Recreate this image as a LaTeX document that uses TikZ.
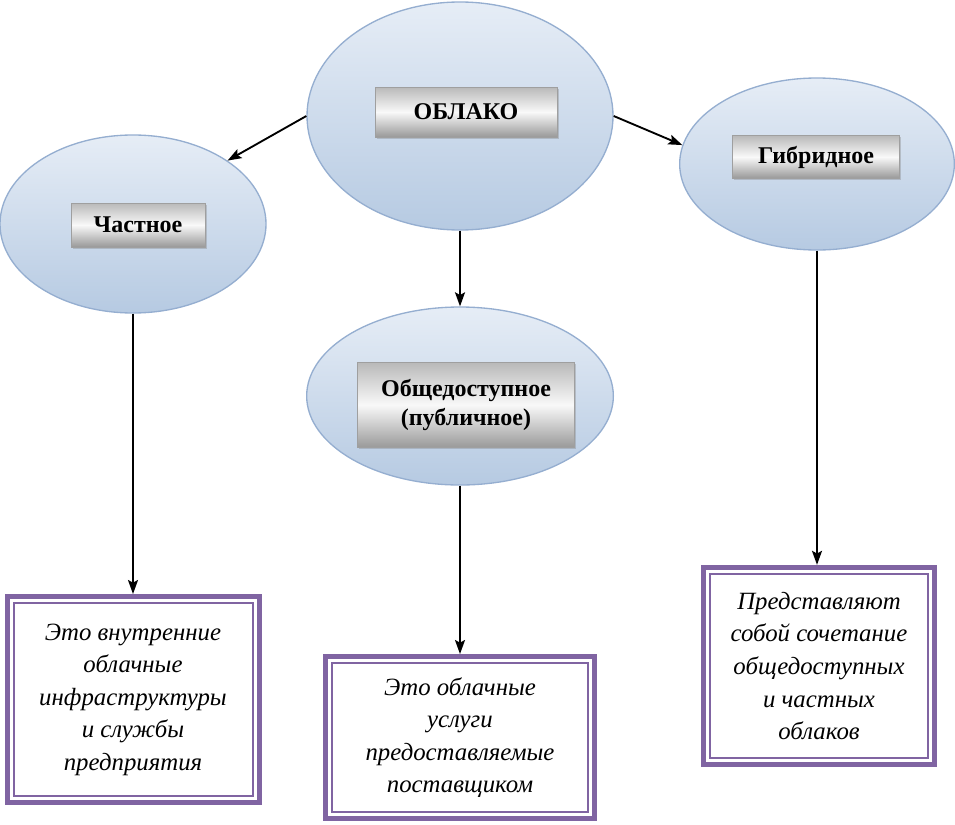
\documentclass[tikz,border=0pt]{standalone}
\usepackage{fontspec}
\setmainfont{Liberation Serif}
\usetikzlibrary{shapes.geometric, shadows, arrows.meta}
\definecolor{cloudtop}{HTML}{E6EDF6}
\definecolor{cloudbot}{HTML}{B6CAE2}
\definecolor{cloudrim}{HTML}{95AED0}
\definecolor{framepurple}{HTML}{8064A2}

\begin{document}
\begin{tikzpicture}[x=0.75pt, y=-0.75pt,
	cloud/.style={ellipse, draw=cloudrim, line width=1pt, top color=cloudtop, bottom color=cloudbot, inner sep=0pt},
	tag/.style={draw=gray!75, line width=0.6pt, top color=gray!55, bottom color=gray!80, middle color=gray!5,
		drop shadow={shadow xshift=1.2pt, shadow yshift=-1.2pt, opacity=0.35},
		font=\fontsize{18}{22}\selectfont\bfseries, align=center, inner sep=0pt},
	note/.style={draw=framepurple, line width=3.75pt, fill=white, font=\fontsize{18.6}{24.4}\selectfont\itshape, align=center, inner sep=0pt},
	link/.style={line width=1.4pt, -{Stealth[length=10.5pt, width=7.5pt, inset=2pt]}}]
	\useasboundingbox (0,0) rectangle (955,824);

	\node [cloud, minimum width=229.5pt, minimum height=171pt] (cloud) at (460,116) {};
	\node [cloud, minimum width=199.5pt, minimum height=133.5pt] (priv) at (133,224) {};
	\node [cloud, minimum width=206pt, minimum height=129pt] (hyb) at (817,164) {};
	\node [cloud, minimum width=230pt, minimum height=133.5pt] (pub) at (460,396) {};

	\node [tag, minimum width=136.5pt, minimum height=37.5pt] (cloudtag) at (466,112) {ОБЛАКО};
	\node [tag, minimum width=100.5pt, minimum height=33pt] (privtag) at (138,225) {Частное};
	\node [tag, minimum width=125pt, minimum height=32pt] (hybtag) at (816,157) {Гибридное};
	\node [tag, minimum width=163pt, minimum height=64pt] (pubtag) at (466,405) {Общедоступное\\(публичное)};

	\node [note, minimum width=189pt, minimum height=154.5pt] (privtxt) at (133,699.5)
		{Это внутренние\\облачные\\инфраструктуры\\и службы\\предприятия};
	\node [note, minimum width=202pt, minimum height=121.5pt] (pubtxt) at (460,737.5)
		{Это облачные\\услуги\\предоставляемые\\поставщиком};
	\node [note, minimum width=173pt, minimum height=148pt] (hybtxt) at (819,666)
		{Представляют\\собой сочетание\\общедоступных\\и частных\\облаков};
	\foreach \n in {privtxt, pubtxt, hybtxt}
		\draw [framepurple, line width=1.5pt] ([xshift=6.75pt, yshift=-6.75pt]\n.north west) rectangle ([xshift=-6.75pt, yshift=6.75pt]\n.south east);

	\draw [link] (cloud.west) -- (priv.north east);
	\draw [link] (cloud.east) -- (hyb.172);
	\draw [link] (cloud.south) -- (pub.north);
	\draw [link] (priv.south) -- (privtxt.north);
	\draw [link] (pub.south) -- (pubtxt.north);
	\draw [link] (hyb.south) -- (hyb.south |- hybtxt.north);
\end{tikzpicture}
\end{document}
